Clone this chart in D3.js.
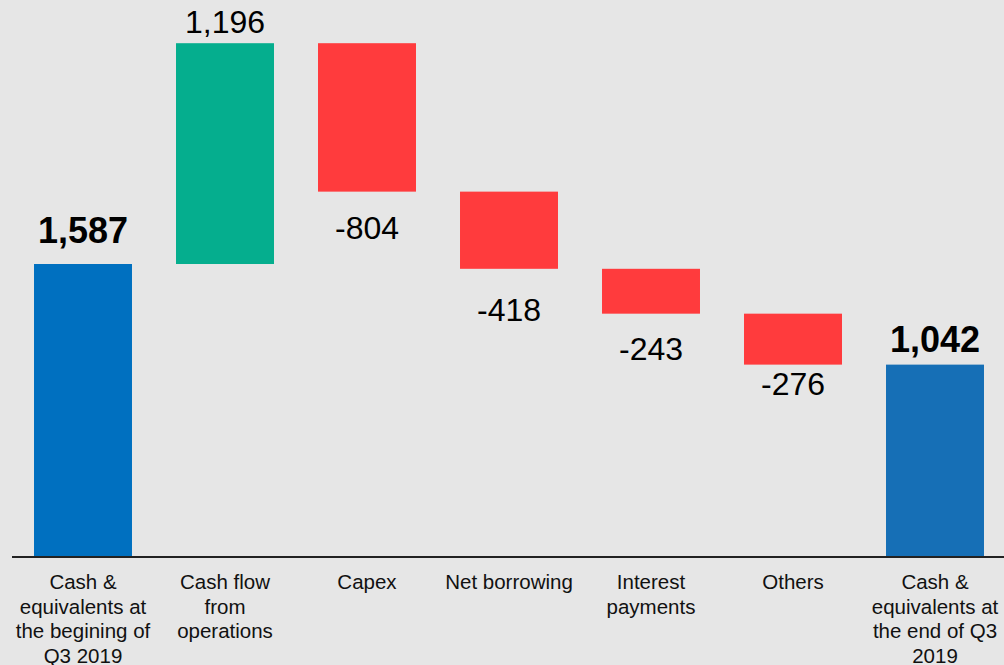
<!DOCTYPE html>
<html><head><meta charset="utf-8">
<script src="https://cdn.jsdelivr.net/npm/d3@7/dist/d3.min.js"></script>
<style>
html,body{margin:0;padding:0;background:#e6e6e6;}
svg{display:block;font-family:"Liberation Sans",Arial,sans-serif;}
</style></head><body>
<svg id="c" width="1004" height="665"></svg>
<script>
const categories = ["Cash &\nequivalents at\nthe begining of\nQ3 2019","Cash flow\nfrom\noperations","Capex","Net borrowing","Interest\npayments","Others","Cash &\nequivalents at\nthe end of Q3\n2019"];
const values = [1587, 1196, -804, -418, -243, -276, 1042];
const kinds = ["total","delta","delta","delta","delta","delta","total"];
const valueLabels = ["1,587","1,196","-804","-418","-243","-276","1,042"];

// layout: gap (px) between bar end and its value label baseline
const labelGap = [21, 10, 47, 52, 46, 30, 13];

const svg = d3.select("#c");
const baseY = 557;
const x = d3.scaleBand().domain(categories).range([12, 1006]).paddingInner(0.31).paddingOuter(0.155);
const y = d3.scaleLinear().domain([0, 3017]).range([baseY, 0]);

let run = 0;
const bars = values.map((v,i)=>{
  let y0, y1;
  if (kinds[i]==="total"){ y0=0; y1=v; run=v; }
  else { y0=run; y1=run+v; run=y1; }
  return {cat:categories[i], v, kind:kinds[i], lo:Math.min(y0,y1), hi:Math.max(y0,y1), label:valueLabels[i], i};
});
const colors = d => d.kind==="total" ? (d.i===0 ? "#0070c0" : "#166fb6") : (d.v>0 ? "#05ae8e" : "#ff3b3d");

svg.selectAll("rect.bar").data(bars).join("rect")
  .attr("x", d=>x(d.cat)).attr("width", x.bandwidth())
  .attr("y", d=>y(d.hi)).attr("height", d=>y(d.lo)-y(d.hi))
  .attr("fill", colors);

svg.append("line").attr("x1",12).attr("x2",1004).attr("y1",baseY).attr("y2",baseY)
  .attr("stroke","#222").attr("stroke-width",2);

svg.selectAll("text.val").data(bars).join("text")
  .attr("x", d=>x(d.cat)+x.bandwidth()/2)
  .attr("y", d=> d.v>0 ? y(d.hi)-labelGap[d.i] : y(d.lo)+labelGap[d.i])
  .attr("text-anchor","middle")
  .attr("font-size", d=>d.kind==="total"?36:32)
  .attr("font-weight", d=>d.kind==="total"?"bold":"normal")
  .attr("fill","#000")
  .text(d=>d.label);

const cl = svg.selectAll("text.cat").data(categories).join("text")
  .attr("text-anchor","middle").attr("font-size",20.5).attr("fill","#111")
  .attr("x", d=>x(d)+x.bandwidth()/2).attr("y", 589);
cl.selectAll("tspan").data(d=>d.split("\n")).join("tspan")
  .attr("x", function(){return this.parentNode.getAttribute("x");})
  .attr("dy",(d,i)=>i===0?0:24.7).text(d=>d);
</script>
</body></html>
